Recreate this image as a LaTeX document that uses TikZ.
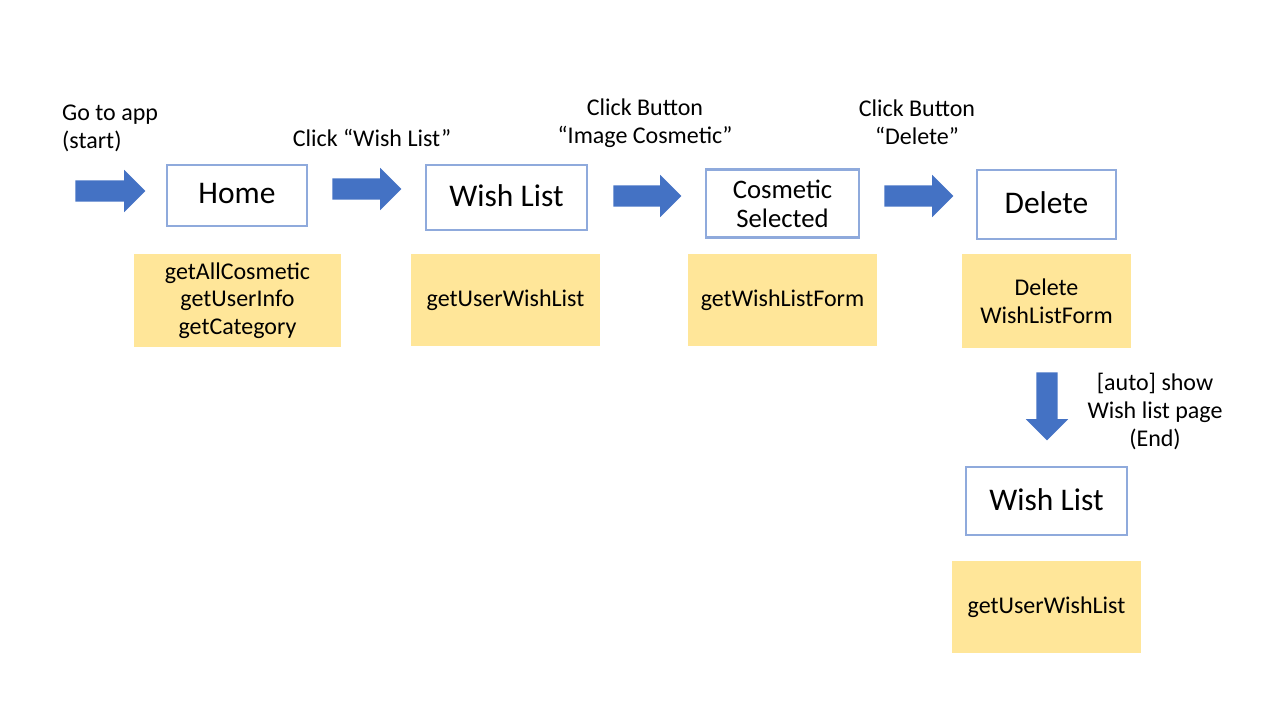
\documentclass[tikz,border=0pt]{standalone}
\usepackage{fontspec}
\setmainfont{Carlito}
\usetikzlibrary{shapes.arrows}
\definecolor{boxline}{HTML}{8FAADC}
\definecolor{note}{HTML}{FFE699}
\definecolor{arrowblue}{HTML}{4472C4}
\newcommand{\upby}[1]{\raisebox{3.5pt}{#1}}
\begin{document}
\begin{tikzpicture}[x=1pt,y=-1pt,
  page/.style={draw=boxline,line width=2.5pt,fill=white,inner sep=0pt,align=center,font=\fontsize{31.5}{34}\selectfont},
  notebox/.style={fill=note,inner sep=0pt,align=center,font=\fontsize{24}{27.6}\selectfont},
  lbl/.style={inner sep=0pt,align=center,font=\fontsize{24}{27.8}\selectfont},
  blockarrow/.style={single arrow,fill=arrowblue,draw=none,inner sep=0pt,inner ysep=10.5pt,
    single arrow head extend=10.5pt,single arrow tip angle=90,minimum height=#1,anchor=center}
]
\useasboundingbox (0,0) rectangle (1280,720);
% pages
\node[page,minimum width=140pt,minimum height=61pt] (home) at (237,195.5) {\upby{Home}};
\node[page,minimum width=161pt,minimum height=65pt] (wish) at (506.5,197.5) {\upby{Wish List}};
\node[page,minimum width=153pt,minimum height=68pt,font=\fontsize{26.7}{29}\selectfont] (cos) at (782.5,203.5) {Cosmetic\\Selected};
\node[page,minimum width=139pt,minimum height=69pt] (del) at (1046.5,204.5) {\upby{Delete}};
\node[page,minimum width=161pt,minimum height=68pt] (wish2) at (1046.5,501) {\upby{Wish List}};
% notes
\node[notebox,minimum width=207pt,minimum height=93pt] (n1) at (237.5,300.5) {getAllCosmetic\\getUserInfo\\getCategory};
\node[notebox,minimum width=189pt,minimum height=92pt] (n2) at (505.5,300) {\raisebox{-2pt}{getUserWishList}};
\node[notebox,minimum width=189pt,minimum height=92pt] (n3) at (782.5,300) {\raisebox{-2pt}{getWishListForm}};
\node[notebox,minimum width=169pt,minimum height=94pt] (n4) at (1046.5,301) {Delete\\WishListForm};
\node[notebox,minimum width=189pt,minimum height=92pt] (n5) at (1046.5,607) {\raisebox{-2pt}{getUserWishList}};
% arrows
\node[blockarrow=70pt] (a1) at (105,191) {};
\node[blockarrow=69pt] (a2) at (361.5,189) {};
\node[blockarrow=68pt] (a3) at (642,196) {};
\node[blockarrow=69pt] (a4) at (913.5,196) {};
\node[blockarrow=68pt,rotate=-90] (a5) at (1047,401) {};
% labels
\node[lbl,align=left,anchor=west] (l1) at (62,128.5) {Go to app\\(start)};
\node[lbl] (l2) at (372,138) {Click “Wish List”};
\node[lbl] (l3) at (645,123) {Click Button\\“Image Cosmetic”};
\node[lbl] (l4) at (917,122) {Click Button\\“Delete”};
\node[lbl] (l5) at (1155,411.5) {[auto] show\\Wish list page\\(End)};
\end{tikzpicture}
\end{document}
